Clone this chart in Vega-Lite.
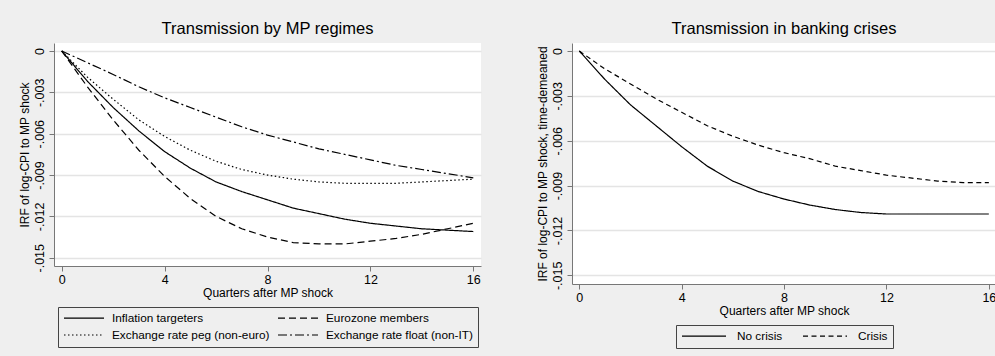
{
 "$schema": "https://vega.github.io/schema/vega-lite/v6.json",
 "background": "#efefef",
 "padding": {"left": 18, "top": 20, "right": 0, "bottom": 8},
 "spacing": 54,
 "config": {
  "font": "Liberation Sans",
  "view": {"stroke": null, "fill": "white"},
  "title": {"fontSize": 16.5, "fontWeight": "normal", "color": "black", "offset": 6, "anchor": "middle"},
  "axis": {"labelFontSize": 12.5, "titleFontSize": 12, "titleFontWeight": "normal", "labelColor": "black", "titleColor": "black", "domainColor": "#777", "tickColor": "#777", "tickSize": 5, "gridColor": "#e4e4e4", "gridWidth": 1.5, "labelFont": "Liberation Sans", "titleFont": "Liberation Sans"},
  "legend": {"orient": "bottom", "direction": "horizontal", "layout": {"bottom": {"anchor": "middle"}}, "title": null, "labelFontSize": 11.8, "labelColor": "black", "labelFont": "Liberation Sans", "labelLimit": 400, "symbolType": "M-1,0H7", "symbolSize": 100, "symbolStrokeWidth": 1.2, "symbolStrokeColor": "black", "symbolFillColor": "transparent", "strokeColor": "#444", "padding": 5, "labelOffset": 37, "columnPadding": 5, "rowPadding": 4, "offset": 8}
 },
 "datasets": {
  "regimes": [
   {"group":"Inflation targeters","q":0,"irf":0},{"group":"Inflation targeters","q":1,"irf":-0.0022},{"group":"Inflation targeters","q":2,"irf":-0.0041},{"group":"Inflation targeters","q":3,"irf":-0.0058},{"group":"Inflation targeters","q":4,"irf":-0.0073},{"group":"Inflation targeters","q":5,"irf":-0.0085},{"group":"Inflation targeters","q":6,"irf":-0.0095},{"group":"Inflation targeters","q":7,"irf":-0.0102},{"group":"Inflation targeters","q":8,"irf":-0.0108},{"group":"Inflation targeters","q":9,"irf":-0.0114},{"group":"Inflation targeters","q":10,"irf":-0.0118},{"group":"Inflation targeters","q":11,"irf":-0.0122},{"group":"Inflation targeters","q":12,"irf":-0.0125},{"group":"Inflation targeters","q":13,"irf":-0.0127},{"group":"Inflation targeters","q":14,"irf":-0.0129},{"group":"Inflation targeters","q":15,"irf":-0.013},{"group":"Inflation targeters","q":16,"irf":-0.0131},
   {"group":"Eurozone members","q":0,"irf":0},{"group":"Eurozone members","q":1,"irf":-0.0026},{"group":"Eurozone members","q":2,"irf":-0.005},{"group":"Eurozone members","q":3,"irf":-0.0072},{"group":"Eurozone members","q":4,"irf":-0.0091},{"group":"Eurozone members","q":5,"irf":-0.0107},{"group":"Eurozone members","q":6,"irf":-0.012},{"group":"Eurozone members","q":7,"irf":-0.0129},{"group":"Eurozone members","q":8,"irf":-0.0135},{"group":"Eurozone members","q":9,"irf":-0.0139},{"group":"Eurozone members","q":10,"irf":-0.014},{"group":"Eurozone members","q":11,"irf":-0.014},{"group":"Eurozone members","q":12,"irf":-0.0138},{"group":"Eurozone members","q":13,"irf":-0.0136},{"group":"Eurozone members","q":14,"irf":-0.0133},{"group":"Eurozone members","q":15,"irf":-0.0129},{"group":"Eurozone members","q":16,"irf":-0.0125},
   {"group":"Exchange rate peg (non-euro)","q":0,"irf":0},{"group":"Exchange rate peg (non-euro)","q":1,"irf":-0.0019},{"group":"Exchange rate peg (non-euro)","q":2,"irf":-0.0035},{"group":"Exchange rate peg (non-euro)","q":3,"irf":-0.005},{"group":"Exchange rate peg (non-euro)","q":4,"irf":-0.0062},{"group":"Exchange rate peg (non-euro)","q":5,"irf":-0.0072},{"group":"Exchange rate peg (non-euro)","q":6,"irf":-0.008},{"group":"Exchange rate peg (non-euro)","q":7,"irf":-0.0086},{"group":"Exchange rate peg (non-euro)","q":8,"irf":-0.009},{"group":"Exchange rate peg (non-euro)","q":9,"irf":-0.0093},{"group":"Exchange rate peg (non-euro)","q":10,"irf":-0.0095},{"group":"Exchange rate peg (non-euro)","q":11,"irf":-0.0096},{"group":"Exchange rate peg (non-euro)","q":12,"irf":-0.0096},{"group":"Exchange rate peg (non-euro)","q":13,"irf":-0.0096},{"group":"Exchange rate peg (non-euro)","q":14,"irf":-0.0095},{"group":"Exchange rate peg (non-euro)","q":15,"irf":-0.0094},{"group":"Exchange rate peg (non-euro)","q":16,"irf":-0.0093},
   {"group":"Exchange rate float (non-IT)","q":0,"irf":0},{"group":"Exchange rate float (non-IT)","q":1,"irf":-0.00085},{"group":"Exchange rate float (non-IT)","q":2,"irf":-0.0017},{"group":"Exchange rate float (non-IT)","q":3,"irf":-0.0026},{"group":"Exchange rate float (non-IT)","q":4,"irf":-0.0034},{"group":"Exchange rate float (non-IT)","q":5,"irf":-0.0041},{"group":"Exchange rate float (non-IT)","q":6,"irf":-0.0048},{"group":"Exchange rate float (non-IT)","q":7,"irf":-0.0055},{"group":"Exchange rate float (non-IT)","q":8,"irf":-0.0061},{"group":"Exchange rate float (non-IT)","q":9,"irf":-0.0066},{"group":"Exchange rate float (non-IT)","q":10,"irf":-0.0071},{"group":"Exchange rate float (non-IT)","q":11,"irf":-0.0075},{"group":"Exchange rate float (non-IT)","q":12,"irf":-0.0079},{"group":"Exchange rate float (non-IT)","q":13,"irf":-0.0083},{"group":"Exchange rate float (non-IT)","q":14,"irf":-0.0086},{"group":"Exchange rate float (non-IT)","q":15,"irf":-0.0089},{"group":"Exchange rate float (non-IT)","q":16,"irf":-0.0092}
  ],
  "crises": [
   {"group":"No crisis","q":0,"irf":0},{"group":"No crisis","q":1,"irf":-0.0019},{"group":"No crisis","q":2,"irf":-0.0036},{"group":"No crisis","q":3,"irf":-0.005},{"group":"No crisis","q":4,"irf":-0.0064},{"group":"No crisis","q":5,"irf":-0.0077},{"group":"No crisis","q":6,"irf":-0.0087},{"group":"No crisis","q":7,"irf":-0.0094},{"group":"No crisis","q":8,"irf":-0.0099},{"group":"No crisis","q":9,"irf":-0.0103},{"group":"No crisis","q":10,"irf":-0.0106},{"group":"No crisis","q":11,"irf":-0.0108},{"group":"No crisis","q":12,"irf":-0.0109},{"group":"No crisis","q":13,"irf":-0.0109},{"group":"No crisis","q":14,"irf":-0.0109},{"group":"No crisis","q":15,"irf":-0.0109},{"group":"No crisis","q":16,"irf":-0.0109},
   {"group":"Crisis","q":0,"irf":0},{"group":"Crisis","q":1,"irf":-0.0012},{"group":"Crisis","q":2,"irf":-0.0022},{"group":"Crisis","q":3,"irf":-0.0032},{"group":"Crisis","q":4,"irf":-0.0041},{"group":"Crisis","q":5,"irf":-0.005},{"group":"Crisis","q":6,"irf":-0.0057},{"group":"Crisis","q":7,"irf":-0.0063},{"group":"Crisis","q":8,"irf":-0.0068},{"group":"Crisis","q":9,"irf":-0.0072},{"group":"Crisis","q":10,"irf":-0.0077},{"group":"Crisis","q":11,"irf":-0.008},{"group":"Crisis","q":12,"irf":-0.0083},{"group":"Crisis","q":13,"irf":-0.0085},{"group":"Crisis","q":14,"irf":-0.0087},{"group":"Crisis","q":15,"irf":-0.0088},{"group":"Crisis","q":16,"irf":-0.0088}
  ]
 },
 "resolve": {"scale": {"strokeDash": "independent"}, "legend": {"strokeDash": "independent"}},
 "hconcat": [
  {
   "title": "Transmission by MP regimes",
   "width": 427, "height": 223,
   "data": {"name": "regimes"},
   "mark": {"type": "line", "color": "black", "strokeWidth": 1.2},
   "encoding": {
    "x": {"field": "q", "type": "quantitative", "scale": {"domain": [-0.3, 16.3], "nice": false, "zero": false}, "axis": {"values": [0,4,8,12,16], "title": "Quarters after MP shock", "grid": false, "labelPadding": 2, "titlePadding": 2}},
    "y": {"field": "irf", "type": "quantitative", "scale": {"domain": [-0.0156, 0.00058], "nice": false, "zero": false}, "axis": {"values": [0,-0.003,-0.006,-0.009,-0.012,-0.015], "labelExpr": "datum.value == 0 ? '0' : '-.' + substring(toString(1000 + round(-datum.value*1000)), 1)", "labelAngle": -90, "labelPadding": 3, "title": "IRF of log-CPI to MP shock", "titlePadding": 2, "grid": true}},
    "strokeDash": {"field": "group", "type": "nominal", "scale": {"domain": ["Inflation targeters","Eurozone members","Exchange rate peg (non-euro)","Exchange rate float (non-IT)"], "range": [[1,0],[7,4],[1.5,2.5],[9,3,2,3]]}, "legend": {"columns": 2}}
   }
  },
  {
   "title": "Transmission in banking crises",
   "width": 424, "height": 241,
   "data": {"name": "crises"},
   "mark": {"type": "line", "color": "black", "strokeWidth": 1.2},
   "encoding": {
    "x": {"field": "q", "type": "quantitative", "scale": {"domain": [-0.285, 16.28], "nice": false, "zero": false}, "axis": {"values": [0,4,8,12,16], "title": "Quarters after MP shock", "grid": false, "labelPadding": 2, "titlePadding": 2}},
    "y": {"field": "irf", "type": "quantitative", "scale": {"domain": [-0.01558, 0.000535], "nice": false, "zero": false}, "axis": {"values": [0,-0.003,-0.006,-0.009,-0.012,-0.015], "labelExpr": "datum.value == 0 ? '0' : '-.' + substring(toString(1000 + round(-datum.value*1000)), 1)", "labelAngle": -90, "labelPadding": 3, "title": "IRF of log-CPI to MP shock, time-demeaned", "titlePadding": 2, "grid": true}},
    "strokeDash": {"field": "group", "type": "nominal", "scale": {"domain": ["No crisis","Crisis"], "range": [[1,0],[5,3.5]]}, "legend": {"columns": 2, "symbolType": "M-1,0H7.8", "labelOffset": 44, "columnPadding": 17}}
   }
  }
 ]
}
